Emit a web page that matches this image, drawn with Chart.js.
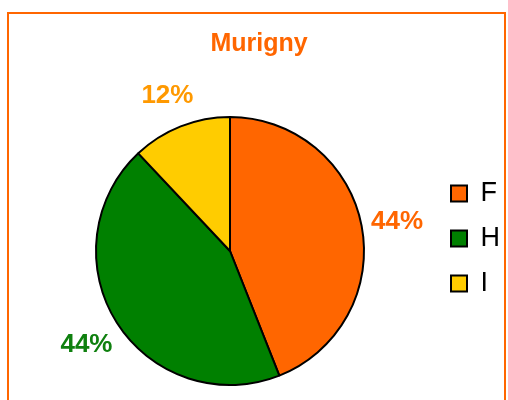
<!DOCTYPE html>
<html>
<head>
<meta charset="utf-8">
<script src="https://cdn.jsdelivr.net/npm/chart.js@4.4.1/dist/chart.umd.min.js"></script>
<style>
  html, body { margin: 0; padding: 0; background: #ffffff; }
  #wrap { width: 508px; height: 400px; }
</style>
</head>
<body>
<div id="wrap"><canvas id="myPieChart" width="508" height="400"></canvas></div>
<script>
// Datos del gráfico
const chartTitle = 'Murigny';
const categories = ['F', 'H', 'I'];
const shares = [44, 44, 12];
const sliceColors = ['#FF6600', '#008000', '#FFCC00'];
const labelColors = ['#FF6600', '#0F800F', '#FF9900'];

// Marco naranja y título
const framePlugin = {
    id: 'frame',
    beforeDraw(chart) {
        const ctx = chart.ctx;
        ctx.save();
        ctx.fillStyle = '#FFFFFF';
        ctx.fillRect(0, 0, chart.width, chart.height);
        ctx.strokeStyle = '#FF6600';
        ctx.lineWidth = 2;
        ctx.strokeRect(8, 13, 497, 420);
        // título centrado sobre el marco
        ctx.fillStyle = '#FF6600';
        ctx.font = 'bold 25px "Liberation Sans", Arial, sans-serif';
        ctx.textAlign = 'center';
        ctx.textBaseline = 'middle';
        ctx.fillText(chartTitle, 259, 44);
        ctx.restore();
    }
};

// Etiquetas de porcentaje fuera de cada sector
const percentLabels = {
    id: 'percentLabels',
    afterDatasetsDraw(chart) {
        const ctx = chart.ctx;
        const meta = chart.getDatasetMeta(0);
        const total = shares.reduce((a, b) => a + b, 0);
        ctx.save();
        ctx.font = 'bold 26px "Liberation Sans", Arial, sans-serif';
        ctx.textAlign = 'center';
        ctx.textBaseline = 'middle';
        meta.data.forEach((arc, i) => {
            const p = arc.getProps(['x', 'y', 'startAngle', 'endAngle', 'outerRadius'], true);
            const mid = (p.startAngle + p.endAngle) / 2;
            const r = p.outerRadius + 36;
            ctx.fillStyle = labelColors[i];
            const pct = Math.round(shares[i] / total * 100) + '%';
            ctx.fillText(pct, p.x + Math.cos(mid) * r, p.y + Math.sin(mid) * r + 3);
        });
        ctx.restore();
    }
};

const configPie = {
    type: 'pie',
    data: {
        labels: categories,
        datasets: [{
            data: shares,
            backgroundColor: sliceColors,
            borderColor: '#000000',
            borderWidth: 2
        }]
    },
    options: {
        responsive: false,
        animation: false,
        layout: {
            padding: { top: 116, left: 27, right: -2, bottom: 14 }
        },
        plugins: {
            title: { display: false },
            legend: {
                position: 'right',
                align: 'start',
                fullSize: false,
                title: {
                    display: true,
                    text: '',
                    font: { size: 10, lineHeight: 1 },
                    padding: { top: 36, bottom: 0 }
                },
                labels: {
                    color: '#000000',
                    boxWidth: 16,
                    boxHeight: 16,
                    padding: 18,
                    font: { family: '"Liberation Sans", Arial, sans-serif', size: 27 }
                }
            },
            tooltip: { enabled: false }
        }
    },
    plugins: [framePlugin, percentLabels]
};

const pieCtx = document.getElementById('myPieChart').getContext('2d');
new Chart(pieCtx, configPie);
</script>
</body>
</html>
